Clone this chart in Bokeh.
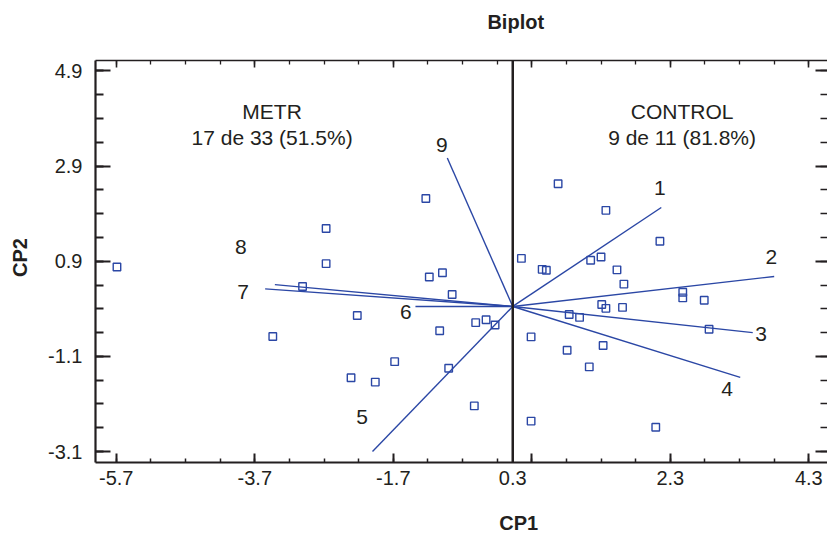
import numpy as np
from bokeh.plotting import figure
from bokeh.models import ColumnDataSource, Range1d, LinearAxis, FixedTicker, Span, Label
from bokeh.core.properties import value
from bokeh.embed import file_html
from bokeh.resources import INLINE

# ---------------- data ----------------
obs_x = [-5.69, -3.44, -3.01, -2.67, -2.67, -2.22, -2.31, -1.96, -1.68, -1.23,
         -1.18, -0.99, -0.85, -1.03, -0.90, -0.51, -0.36, -0.23, -0.53,
         0.68, 1.37, 2.15, 0.15, 0.45, 0.51, 1.15, 1.30, 1.53, 1.63,
         2.48, 2.48, 2.79, 1.31, 1.37, 1.61, 0.84, 0.99, 2.86, 0.29,
         0.81, 1.33, 1.13, 0.29, 2.09]
obs_y = [0.78, -0.68, 0.37, 1.59, 0.85, -0.24, -1.55, -1.64, -1.21, 2.22,
         0.57, 0.66, 0.20, -0.56, -1.35, -0.39, -0.33, -0.44, -2.14,
         2.53, 1.97, 1.32, 0.96, 0.73, 0.71, 0.92, 0.99, 0.72, 0.42,
         0.25, 0.13, 0.08, -0.01, -0.09, -0.07, -0.22, -0.28, -0.53, -0.69,
         -0.97, -0.87, -1.32, -2.46, -2.59]

var_names = ["1", "2", "3", "4", "5", "6", "7", "8", "9"]
var_x = [2.17, 3.80, 3.49, 3.31, -2.00, -1.38, -3.55, -3.41, -0.92]
var_y = [2.03, 0.58, -0.60, -1.54, -3.10, -0.05, 0.32, 0.41, 3.07]
var_label_x = [2.15, 3.76, 3.61, 3.12, -2.15, -1.52, -3.87, -3.90, -1.00]
var_label_y = [2.43, 0.98, -0.63, -1.78, -2.38, -0.17, 0.25, 1.21, 3.34]
origin_x = 0.025
origin_y = -0.05

group_texts = ["METR", "17 de 33 (51.5%)", "CONTROL", "9 de 11 (81.8%)"]
group_x = [-3.45, -3.45, 2.47, 2.47]
group_y = [4.05, 3.51, 4.05, 3.51]

x_tick_values = [-5.7, -3.7, -1.7, 0.3, 2.3, 4.3]
x_tick_labels = ["-5.7", "-3.7", "-1.7", "0.3", "2.3", "4.3"]
y_tick_values = [4.9, 2.9, 0.9, -1.1, -3.1]
y_tick_labels = ["4.9", "2.9", "0.9", "-1.1", "-3.1"]

title_text = "Biplot"
x_title = "CP1"
y_title = "CP2"

# ---------------- style ----------------
BLUE = "#2b47a5"
INK = "#231f20"
FONT = "Liberation Sans"
XMIN, XMAX = -6.0, 4.57
YMIN, YMAX = -3.33, 5.12

x_minor = [round(v, 2) for v in np.arange(-5.7, 4.55, 0.5)]
y_minor = [round(v, 2) for v in np.arange(-3.1, 5.0, 0.5)]
# the "0.3" label of the reference sits on the vertical origin line
x_label_pos = [origin_x if t == "0.3" else v for v, t in zip(x_tick_values, x_tick_labels)]

p = figure(width=827, height=537,
           x_range=Range1d(XMIN, XMAX), y_range=Range1d(YMIN, YMAX),
           output_backend="svg", toolbar_location=None,
           min_border_left=95, min_border_right=0, min_border_top=60,
           min_border_bottom=75)
p.outline_line_color = None
p.xgrid.visible = False
p.ygrid.visible = False

xt = FixedTicker(ticks=x_tick_values, minor_ticks=x_minor)
yt = FixedTicker(ticks=y_tick_values, minor_ticks=y_minor)
blank_x = {v: "" for v in x_tick_values}
blank_y = {v: "" for v in y_tick_values}

xa = p.xaxis[0]
xa.ticker = xt
xa.axis_line_color = INK
xa.axis_line_width = 2.2
xa.major_tick_in = 9
xa.major_tick_out = 0
xa.minor_tick_in = 4
xa.minor_tick_out = 0
xa.major_tick_line_width = 2
xa.minor_tick_line_width = 1.5
xa.major_tick_line_color = INK
xa.minor_tick_line_color = INK
xa.major_label_overrides = blank_x
xa.major_label_standoff = 0

xlab_axis = LinearAxis(ticker=FixedTicker(ticks=x_label_pos, minor_ticks=[]),
                       major_label_overrides={v: t for v, t in zip(x_label_pos, x_tick_labels)},
                       axis_line_color=None, major_tick_line_color=None,
                       minor_tick_line_color=None, major_tick_in=0, major_tick_out=0,
                       major_label_standoff=8, major_label_text_font=FONT,
                       major_label_text_font_size="20px", major_label_text_color=INK)
p.add_layout(xlab_axis, "below")

ya = p.yaxis[0]
ya.ticker = yt
ya.axis_line_color = INK
ya.axis_line_width = 2.2
ya.major_tick_in = 15
ya.major_tick_out = 0
ya.minor_tick_in = 8
ya.minor_tick_out = 0
ya.major_tick_line_width = 2.2
ya.minor_tick_line_width = 1.8
ya.major_tick_line_color = INK
ya.minor_tick_line_color = INK
ya.major_label_overrides = {v: t for v, t in zip(y_tick_values, y_tick_labels)}
ya.major_label_text_font = FONT
ya.major_label_text_font_size = "20px"
ya.major_label_text_color = INK
ya.major_label_standoff = 13

top = LinearAxis(ticker=xt, major_tick_in=7, major_tick_out=0, minor_tick_in=4,
                 minor_tick_out=0, major_label_overrides=blank_x,
                 major_label_standoff=0, axis_line_width=1.6, axis_line_color=INK,
                 major_tick_line_width=1.6, minor_tick_line_width=1.3,
                 major_tick_line_color=INK, minor_tick_line_color=INK)
p.add_layout(top, "above")

right = LinearAxis(ticker=yt, major_tick_in=12, major_tick_out=0, minor_tick_in=7,
                   minor_tick_out=0, major_label_overrides=blank_y,
                   major_label_standoff=0, axis_line_color=None,
                   major_tick_line_width=2, minor_tick_line_width=1.6,
                   major_tick_line_color=INK, minor_tick_line_color=INK)
p.add_layout(right, "right")

p.add_layout(Span(location=origin_x, dimension="height", line_color=INK, line_width=2.5))

# vectors
vec = ColumnDataSource(dict(x0=[origin_x] * len(var_x), y0=[origin_y] * len(var_y),
                            x1=var_x, y1=var_y))
p.segment("x0", "y0", "x1", "y1", source=vec, line_color=BLUE, line_width=1.4)

# observations
p.scatter(obs_x, obs_y, marker="square", size=7.5, fill_color=None,
          line_color=BLUE, line_width=1.4)

# vector labels
p.text(var_label_x, var_label_y, text=var_names, text_font=value(FONT),
       text_font_size="21px", text_color=INK, text_align="center",
       text_baseline="middle")

# group labels
p.text(group_x, group_y, text=group_texts, text_font=value(FONT),
       text_font_size="21px", text_color=INK, text_align="center",
       text_baseline="middle")

# titles (in side panels so they are not clipped to the frame)
p.add_layout(Label(x=origin_x, y=39, x_units="data", y_units="screen", text=title_text,
                   text_align="center", text_baseline="middle", x_offset=3,
                   text_font=FONT, text_font_size="20px", text_font_style="bold",
                   text_color=INK), "above")
p.add_layout(Label(x=origin_x, y=-13, x_units="data", y_units="screen", text=x_title,
                   text_align="center", text_baseline="middle", x_offset=6,
                   text_font=FONT, text_font_size="20px", text_font_style="bold",
                   text_color=INK), "below")
p.add_layout(Label(x=-4, y=0.98, x_units="screen", y_units="data", text=y_title,
                   text_align="center", text_baseline="middle", angle=np.pi / 2,
                   text_font=FONT, text_font_size="20px", text_font_style="bold",
                   text_color=INK), "left")

open("out.html", "w").write(file_html(p, INLINE))
